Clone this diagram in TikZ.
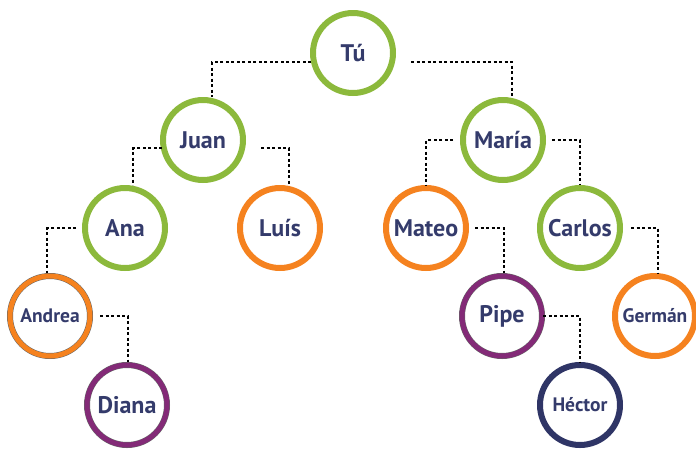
\documentclass[tikz,border=0pt]{standalone}
\usepackage{fontspec}
\setmainfont{PT Sans}
\usetikzlibrary{calc}
\definecolor{cgreen}{HTML}{8CB93C}
\definecolor{corange}{HTML}{F5821F}
\definecolor{cpurple}{HTML}{832A77}
\definecolor{cnavy}{HTML}{2F3566}
\definecolor{ctext}{HTML}{343B6B}
\begin{document}
\begin{tikzpicture}[x=1pt,y=-1pt,
  person/.style={circle,minimum size=80pt,inner sep=0pt,outer sep=3pt,line width=6pt,
    text=ctext,font=\bfseries\fontsize{24}{28}\selectfont},
  small/.style={font=\bfseries\fontsize{19.5}{23}\selectfont},
  ringed/.style={line width=0.5pt,draw=black!60,double distance=5pt},
  conn/.style={draw=black,line width=2.2pt,dash pattern=on 3pt off 2.5pt}]
\useasboundingbox (0,0) rectangle (696,448);
\node[person,draw=cgreen] (tu) at (353,53) {Tú};
\node[person,draw=cgreen] (juan) at (203,140) {Juan};
\node[person,draw=cgreen] (maria) at (503,140) {María};
\node[person,draw=cgreen] (ana) at (125,228) {Ana};
\node[person,draw=corange] (luis) at (280,228) {Luís};
\node[person,draw=corange] (mateo) at (426,228) {Mateo};
\node[person,draw=cgreen] (carlos) at (580,228) {Carlos};
\node[person,small,ringed,double=corange] (andrea) at (50,316) {Andrea};
\node[person,ringed,double=cpurple] (pipe) at (502,316) {Pipe};
\node[person,small,draw=corange] (german) at (655,316) {Germán};
\node[person,ringed,double=cpurple] (diana) at (127,405) {Diana};
\node[person,small,draw=cnavy] (hector) at (580,405) {Héctor};
\path[conn] ($(tu)+(-42,9)$) -| ($(juan.north)+(9,0)$);
\path[conn] ($(tu)+(58,9)$) -| ($(maria.north)+(9,0)$);
\path[conn] ($(juan)+(-41,8)$) -| ($(ana.north)+(8,0)$);
\path[conn] ($(juan)+(58,8)$) -| ($(luis.north)+(9,0)$);
\path[conn] ($(maria)+(-50,0)$) -| (mateo.north);
\path[conn] ($(maria)+(49,0)$) -| (carlos.north);
\path[conn] ($(ana)+(-49,0)$) -| ($(andrea.north)+(-3,0)$);
\path[conn] ($(mateo)+(49,0)$) -| ($(pipe.north)+(2,0)$);
\path[conn] ($(carlos)+(51,0)$) -| ($(german.north)+(3,0)$);
\path[conn] ($(andrea)+(50,0)$) -| ($(diana.north)+(1,0)$);
\path[conn] ($(pipe)+(41,0)$) -| (hector.north);
\end{tikzpicture}
\end{document}
